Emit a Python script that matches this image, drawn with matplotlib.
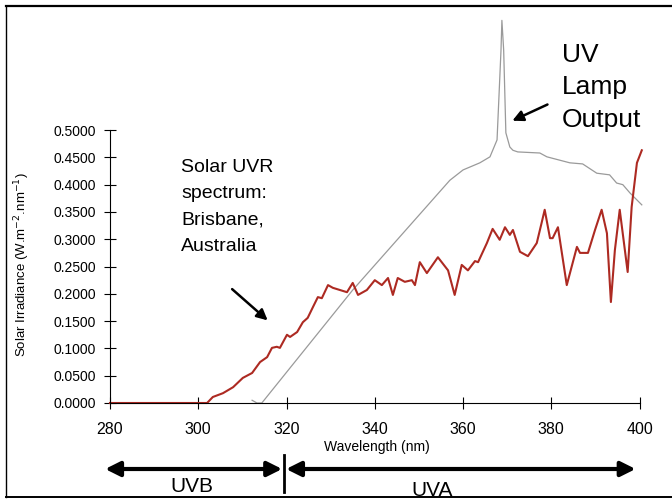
import matplotlib
matplotlib.use("Agg")
import matplotlib.pyplot as plt
import matplotlib.transforms as mtransforms
from matplotlib.lines import Line2D

plt.rcParams['font.family'] = ['Liberation Sans', 'DejaVu Sans']

# solar UVR spectrum, Brisbane (red)
solar_wl = [280, 300, 302.0, 303.3, 305.6, 307.9, 310.1, 312.2, 314.0, 315.6, 316.7,
            317.8, 318.5, 320.1, 320.8, 322.4, 323.7, 324.8, 326.0, 327.1, 328.0,
            329.4, 330.5, 332.1, 333.7, 335.0, 336.2, 338.2, 340.0, 341.6, 343.0,
            344.1, 345.2, 346.8, 348.4, 349.1, 350.2, 351.8, 354.3, 356.6, 358.1,
            359.7, 361.1, 362.7, 363.4, 365.4, 366.7, 368.3, 369.5, 370.6, 371.3,
            372.9, 374.7, 376.7, 377.8, 378.5, 379.7, 380.3, 381.5, 383.5, 385.8,
            386.5, 388.3, 389.9, 391.4, 392.6, 393.5, 394.4, 395.5, 397.3, 398.2,
            399.4, 400.5]
solar_val = [0.0, 0.0, 0.0, 0.011, 0.018, 0.029, 0.046, 0.055, 0.075, 0.084, 0.101,
             0.103, 0.101, 0.125, 0.121, 0.130, 0.148, 0.156, 0.176, 0.194, 0.192,
             0.216, 0.211, 0.207, 0.203, 0.220, 0.198, 0.207, 0.225, 0.216, 0.229,
             0.198, 0.229, 0.222, 0.225, 0.216, 0.258, 0.238, 0.267, 0.243, 0.198,
             0.253, 0.243, 0.260, 0.258, 0.293, 0.319, 0.299, 0.322, 0.308, 0.317,
             0.277, 0.269, 0.293, 0.330, 0.354, 0.302, 0.302, 0.322, 0.216, 0.286,
             0.275, 0.275, 0.317, 0.354, 0.311, 0.185, 0.280, 0.354, 0.240, 0.359,
             0.440, 0.463]

# UV lamp output (grey)
lamp_wl = [312.2, 313.3, 314.4, 335.0, 357.0, 360.0, 363.8, 366.1, 367.7, 368.1,
           368.6, 368.8, 369.2, 369.7, 370.6, 371.3, 372.4, 377.4, 379.0, 384.2,
           387.1, 390.3, 393.2, 394.8, 396.2, 397.8, 400.5]
lamp_val = [0.005, 0.0, 0.0, 0.207, 0.408, 0.427, 0.440, 0.451, 0.482, 0.555,
            0.647, 0.701, 0.647, 0.495, 0.469, 0.463, 0.460, 0.458, 0.451, 0.440,
            0.438, 0.421, 0.418, 0.403, 0.400, 0.385, 0.363]

y_ticks = [0.0, 0.05, 0.1, 0.15, 0.2, 0.25, 0.3, 0.35, 0.4, 0.45, 0.5]
x_ticks = [280, 300, 320, 340, 360, 380, 400]

fig = plt.figure(figsize=(6.72, 5.0), dpi=100)
ax = fig.add_axes([110 / 672, 1 - 403 / 500, 534 / 672, 393 / 500])

ax.plot(lamp_wl, lamp_val, color="#9a9a9a", lw=0.9, clip_on=False,
        solid_joinstyle="round")
ax.plot(solar_wl, solar_val, color="#ad2a22", lw=1.5, clip_on=False,
        solid_joinstyle="round")

ax.set_xlim(280, 401)
ax.set_ylim(0, 0.72)
ax.spines["top"].set_visible(False)
ax.spines["right"].set_visible(False)
ax.spines["left"].set_bounds(0, 0.5)
ax.spines["bottom"].set_bounds(280, 400)
ax.set_yticks(y_ticks)
ax.set_yticklabels(["%.4f" % v for v in y_ticks], fontsize=10)
ax.set_xticks(x_ticks)
ax.set_xticklabels([str(v) for v in x_ticks], fontsize=11.5)
ax.tick_params(axis="both", direction="inout", length=8, width=0.8)
ax.tick_params(axis="x", pad=10)
ax.tick_params(axis="y", pad=6)
ax.patch.set_alpha(0)

fig.text(22 / 672, 1 - 265 / 500, "Solar Irradiance (W.m$^{-2}$.nm$^{-1}$)",
         rotation=90, ha="center", va="center", fontsize=9.5)
fig.text(377 / 672, 1 - 447 / 500, "Wavelength (nm)", ha="center", va="center",
         fontsize=10)

# annotations
ax.text(296.1, 0.447, "Solar UVR\nspectrum:\nBrisbane,\nAustralia", ha="left",
        va="top", fontsize=14, linespacing=1.72)
ax.annotate("", xy=(316.2, 0.148), xytext=(307.2, 0.212),
            arrowprops=dict(arrowstyle="-|>", color="black", lw=1.8, mutation_scale=16))
ax.text(382.4, 0.66, "UV\nLamp\nOutput", ha="left", va="top", fontsize=19,
        linespacing=1.45)
ax.annotate("", xy=(370.6, 0.515), xytext=(379.7, 0.549),
            arrowprops=dict(arrowstyle="-|>", color="black", lw=1.8, mutation_scale=16))

# UVB / UVA band arrows below the axis
trans = mtransforms.blended_transform_factory(ax.transData, fig.transFigure)
ax.annotate("", xy=(278.9, 0.062), xytext=(319.0, 0.062), xycoords=trans,
            textcoords=trans, annotation_clip=False,
            arrowprops=dict(arrowstyle="<|-|>", color="black", lw=3, mutation_scale=22,
                            shrinkA=0, shrinkB=0))
ax.annotate("", xy=(319.9, 0.062), xytext=(399.1, 0.062), xycoords=trans,
            textcoords=trans, annotation_clip=False,
            arrowprops=dict(arrowstyle="<|-|>", color="black", lw=3, mutation_scale=22,
                            shrinkA=0, shrinkB=0))
fig.add_artist(Line2D([319.4, 319.4], [0.016, 0.09], transform=trans, color="black",
                      lw=2))
fig.text(298.6, 0.028, "UVB", transform=trans, ha="center", va="center", fontsize=15)
fig.text(352.9, 0.02, "UVA", transform=trans, ha="center", va="center", fontsize=15)

# page frame
fig.add_artist(Line2D([6 / 672, 6 / 672], [1 - 6 / 500, 1 - 497 / 500],
                      transform=fig.transFigure, color="black", lw=1))
fig.add_artist(Line2D([6 / 672, 1], [1 - 6 / 500, 1 - 6 / 500],
                      transform=fig.transFigure, color="black", lw=1.6))
fig.add_artist(Line2D([6 / 672, 1], [1 - 497 / 500, 1 - 497 / 500],
                      transform=fig.transFigure, color="black", lw=1.4))

fig.savefig("out.png", dpi=100)
